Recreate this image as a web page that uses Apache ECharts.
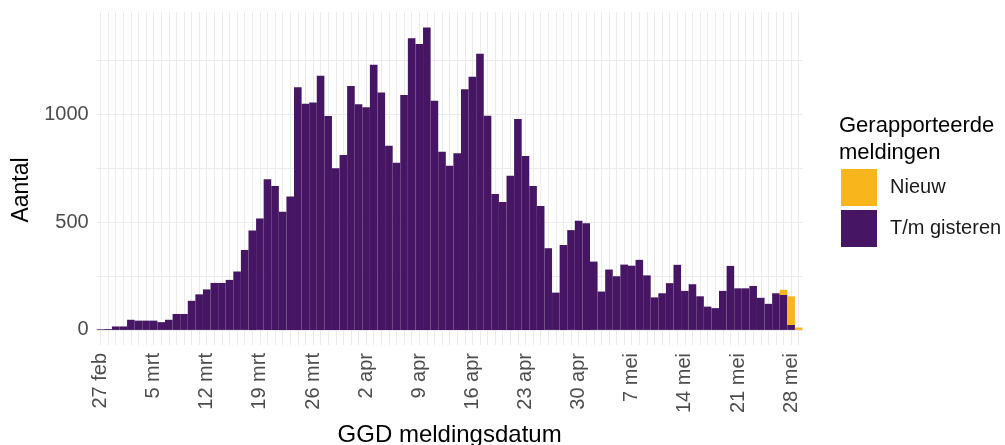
<!DOCTYPE html>
<html>
<head>
<meta charset="utf-8">
<script src="https://cdn.jsdelivr.net/npm/echarts@6/dist/echarts.min.js"></script>
<style>
  html, body { margin: 0; padding: 0; background: #fff; }
  #chart { width: 1005px; height: 445px; }
</style>
</head>
<body>
<div id="chart"></div>
<script>
// dag 0 = 27 feb, dag 92 = 29 mei
const tickDays = [0, 7, 14, 21, 28, 35, 42, 49, 56, 63, 70, 77, 84, 91]
const tickLabels = ['27 feb', '5 mrt', '12 mrt', '19 mrt', '26 mrt', '2 apr', '9 apr',
  '16 apr', '23 apr', '30 apr', '7 mei', '14 mei', '21 mei', '28 mei']

const tmGisteren = [
  3, 4, 16, 16, 47, 43, 43, 43, 36, 47,
  74, 74, 135, 165, 188, 218, 218, 232, 271, 371,
  461, 517, 699, 668, 548, 619, 1126, 1049, 1055, 1179,
  993, 750, 812, 1132, 1047, 1033, 1230, 1101, 855, 776,
  1090, 1353, 1326, 1403, 1063, 827, 762, 820, 1117, 1175,
  1281, 994, 631, 593, 715, 978, 807, 668, 575, 379,
  173, 394, 463, 507, 495, 317, 178, 280, 249, 303,
  298, 325, 253, 151, 170, 217, 302, 181, 212, 156,
  108, 101, 181, 297, 193, 193, 204, 149, 121, 170,
  162, 23, 0
]
const nieuw = [
  0, 0, 0, 0, 0, 0, 0, 0, 0, 0,
  0, 0, 0, 0, 0, 0, 0, 0, 0, 0,
  0, 0, 0, 0, 0, 0, 0, 0, 0, 0,
  0, 0, 0, 0, 0, 0, 0, 0, 0, 0,
  0, 0, 0, 0, 0, 0, 0, 0, 0, 0,
  0, 0, 0, 0, 0, 0, 0, 0, 0, 0,
  0, 0, 0, 0, 0, 0, 0, 0, 0, 0,
  0, 0, 0, 0, 0, 0, 0, 0, 0, 0,
  0, 0, 0, 0, 0, 0, 0, 0, 0, 0,
  24, 133, 11
]
const yLabels = [0, 500, 1000]
const yGrid = [0, 250, 500, 750, 1000, 1250]

const font = '"Liberation Sans", Arial, sans-serif'
const gridColor = '#ebebeb'

const chart = echarts.init(document.getElementById('chart'))
const allDays = tmGisteren.map((v, i) => i)

const option = {
  animation: false,
  textStyle: { fontFamily: font },
  title: {
    text: 'Gerapporteerde\nmeldingen',
    left: 839,
    top: 112,
    padding: 0,
    textStyle: { fontFamily: font, fontSize: 22, fontWeight: 'normal', color: '#000', lineHeight: 27 }
  },
  legend: {
    data: ['Nieuw', 'T/m gisteren'],
    orient: 'vertical',
    left: 841,
    top: 169,
    padding: 0,
    itemWidth: 36,
    itemHeight: 37,
    itemGap: 4,
    icon: 'rect',
    textStyle: { fontFamily: font, fontSize: 20, color: '#1a1a1a', padding: [0, 0, 0, 8] }
  },
  graphic: [
    {
      type: 'text',
      x: 22,
      y: 190,
      rotation: Math.PI / 2,
      style: {
        text: 'Aantal',
        font: '23px ' + font,
        fill: '#000',
        align: 'center',
        verticalAlign: 'middle'
      }
    }
  ],
  grid: {
    left: 96.7,
    right: 202.5,
    top: 12,
    bottom: 100,
    outerBoundsMode: 'none'
  },
  xAxis: [
    {
      // bars
      type: 'category',
      data: allDays,
      show: false
    },
    {
      // daily grid lines and weekly labels
      type: 'value',
      min: -0.5,
      max: 92.5,
      position: 'bottom',
      name: 'GGD meldingsdatum',
      nameLocation: 'middle',
      nameGap: 78,
      nameTextStyle: { fontFamily: font, fontSize: 24, color: '#000' },
      axisLine: { show: false },
      axisTick: { show: false, customValues: allDays },
      axisLabel: {
        customValues: tickDays,
        rotate: 90,
        margin: 8,
        fontSize: 20,
        color: '#4d4d4d',
        formatter: (v) => tickLabels[tickDays.indexOf(v)]
      },
      splitLine: { show: true, lineStyle: { color: gridColor, width: 1 } }
    }
  ],
  yAxis: {
    type: 'value',
    min: -70,
    max: 1475,
    axisLine: { show: false },
    axisTick: { show: false, customValues: yGrid },
    axisLabel: {
      customValues: yLabels,
      margin: 8,
      fontSize: 20,
      color: '#4d4d4d',
      formatter: (v) => String(v)
    },
    splitLine: { show: true, lineStyle: { color: gridColor, width: 1 } }
  },
  series: [
    {
      name: 'T/m gisteren',
      type: 'bar',
      stack: 'meldingen',
      xAxisIndex: 0,
      barCategoryGap: 0,
      itemStyle: { color: '#461563' },
      data: tmGisteren
    },
    {
      name: 'Nieuw',
      type: 'bar',
      stack: 'meldingen',
      xAxisIndex: 0,
      barCategoryGap: 0,
      itemStyle: { color: '#f8b51c' },
      data: nieuw
    }
  ]
}

chart.setOption(option)
</script>
</body>
</html>
